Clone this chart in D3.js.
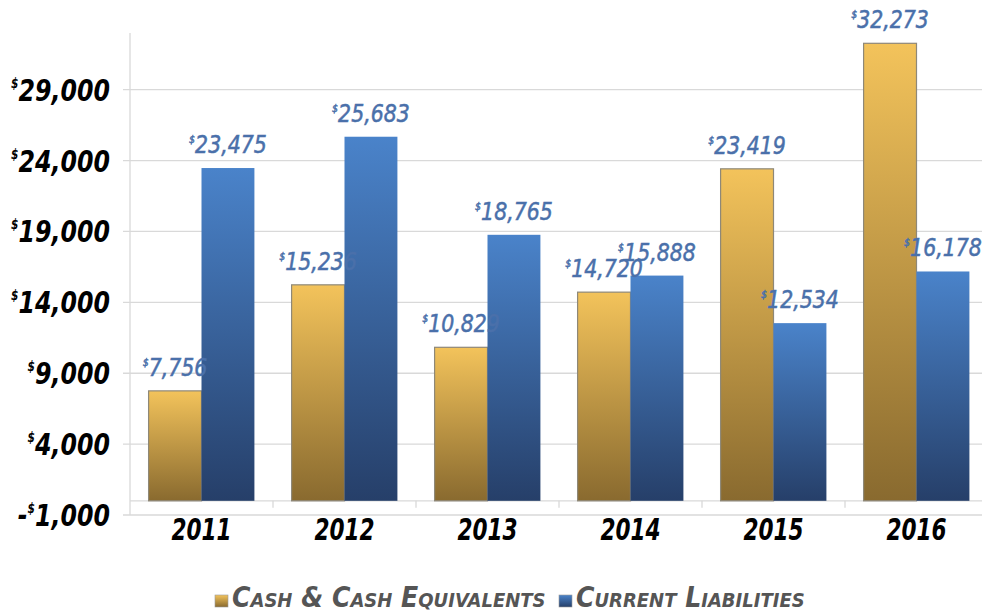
<!DOCTYPE html>
<html><head><meta charset="utf-8">
<script src="https://cdn.jsdelivr.net/npm/d3@7"></script>
<style>
html,body{margin:0;padding:0;background:#fff;}
svg{display:block;}
.f{font-family:"Liberation Sans Narrow","DejaVu Sans Condensed","Liberation Sans",sans-serif;font-style:italic;}
</style></head>
<body><svg id="c" width="982" height="614"></svg>
<script>
const years = ["2011","2012","2013","2014","2015","2016"];
const seriesNames = ["Cash & Cash Equivalents","Current Liabilities"];
const cash = [7756,15236,10829,14720,23419,32273];
const liabilities = [23475,25683,18765,15888,12534,16178];
const yTicks = [-1000,4000,9000,14000,19000,24000,29000];

const svg = d3.select("#c");
const pLeft = 130, pRight = 988, pTop = 33, pBottom = 515;

const x = d3.scaleBand().domain(years).range([pLeft, pRight]).paddingInner(0.26).paddingOuter(0.13);
const x0 = d3.scaleBand().domain(years).range([pLeft, pRight]);
const xs = d3.scaleBand().domain([0,1]).range([0, x.bandwidth()]);
const y = d3.scaleLinear().domain([-1000, 33000]).range([pBottom, pTop]);

const defs = svg.append("defs");
const grads = [
  {id:"gCash", stops:[["0%","#f3c35b"],["100%","#896a2f"]]},
  {id:"gLiab", stops:[["0%","#4a83ca"],["100%","#263f69"]]}
];
grads.forEach(g=>{
  const lg = defs.append("linearGradient").attr("id",g.id).attr("x1",0).attr("y1",0).attr("x2",0).attr("y2",1);
  g.stops.forEach(s=>lg.append("stop").attr("offset",s[0]).attr("stop-color",s[1]));
});
const fills = ["url(#gCash)","url(#gLiab)"];

const gridColor = "#d9d9d9";
svg.append("g").selectAll("line").data(yTicks).join("line")
  .attr("x1", pLeft-7).attr("x2", pRight)
  .attr("y1", d=>y(d)).attr("y2", d=>y(d))
  .attr("stroke", gridColor).attr("stroke-width", 1.3);

svg.append("line").attr("x1",pLeft).attr("x2",pLeft).attr("y1",pTop).attr("y2",pBottom)
  .attr("stroke",gridColor).attr("stroke-width",1.3);

svg.append("line").attr("x1",pLeft).attr("x2",pRight).attr("y1",y(0)).attr("y2",y(0))
  .attr("stroke",gridColor).attr("stroke-width",1.3);
svg.append("g").selectAll("line").data(years.slice(1)).join("line")
  .attr("x1",d=>x0(d)).attr("x2",d=>x0(d)).attr("y1",y(0)).attr("y2",y(0)+7)
  .attr("stroke",gridColor).attr("stroke-width",1.3);

const data = [cash, liabilities];
data.forEach((arr, si)=>{
  svg.append("g").selectAll("rect").data(arr).join("rect")
    .attr("x",(d,i)=>x(years[i])+xs(si))
    .attr("width",xs.bandwidth())
    .attr("y",d=>y(Math.max(0,d)))
    .attr("height",d=>Math.abs(y(d)-y(0)))
    .attr("fill",fills[si])
    .attr("stroke", si===0 ? "#8e8878" : "none")
    .attr("stroke-width", 1.2);
});

const fmt = d3.format(",");
data.forEach((arr, si)=>{
  const t = svg.append("g").selectAll("text").data(arr).join("text")
    .attr("class","f")
    .attr("transform",(d,i)=>`translate(${x(years[i])+xs(si)+xs.bandwidth()/2},${y(d)-15}) scale(0.95,1)`)
    .attr("text-anchor","middle")
    .attr("fill","#4a70aa").attr("stroke","#4a70aa").attr("stroke-width",0.5)
    .attr("font-size",24);
  t.append("tspan").attr("font-size",11).attr("dy",-10).text("$");
  t.append("tspan").attr("dy",10).text(d=>fmt(d));
});

const yl = svg.append("g").selectAll("text").data(yTicks).join("text")
  .attr("class","f")
  .attr("transform",d=>`translate(110,${y(d)+11}) scale(0.85,1)`)
  .attr("text-anchor","end")
  .attr("font-weight","bold").attr("font-size",31).attr("fill","#000");
yl.append("tspan").text(d=>d<0?"-":"");
yl.append("tspan").attr("font-size",14).attr("dy",-13).text("$");
yl.append("tspan").attr("dy",13).text(d=>fmt(Math.abs(d)));

svg.append("g").selectAll("text").data(years).join("text")
  .attr("class","f")
  .attr("transform",d=>`translate(${x0(d)+x0.bandwidth()/2},540) scale(0.8,1)`)
  .attr("text-anchor","middle").attr("font-weight","bold").attr("font-size",30).attr("fill","#000")
  .text(d=>d);

const lgd = svg.append("g");
const legendItems = [
  {name:seriesNames[0], fill:fills[0], sx:215, tx:232},
  {name:seriesNames[1], fill:fills[1], sx:559, tx:576}
];
legendItems.forEach(it=>{
  lgd.append("rect").attr("x",it.sx).attr("y",595).attr("width",13).attr("height",12)
    .attr("fill",it.fill).attr("stroke","#9a9a9a").attr("stroke-width",0.6);
  lgd.append("text").attr("class","f")
    .attr("transform",`translate(${it.tx},607)`)
    .attr("font-size",28).attr("font-weight","bold").attr("fill","#555")
    .style("font-variant","small-caps")
    .text(it.name);
});
</script></body></html>
